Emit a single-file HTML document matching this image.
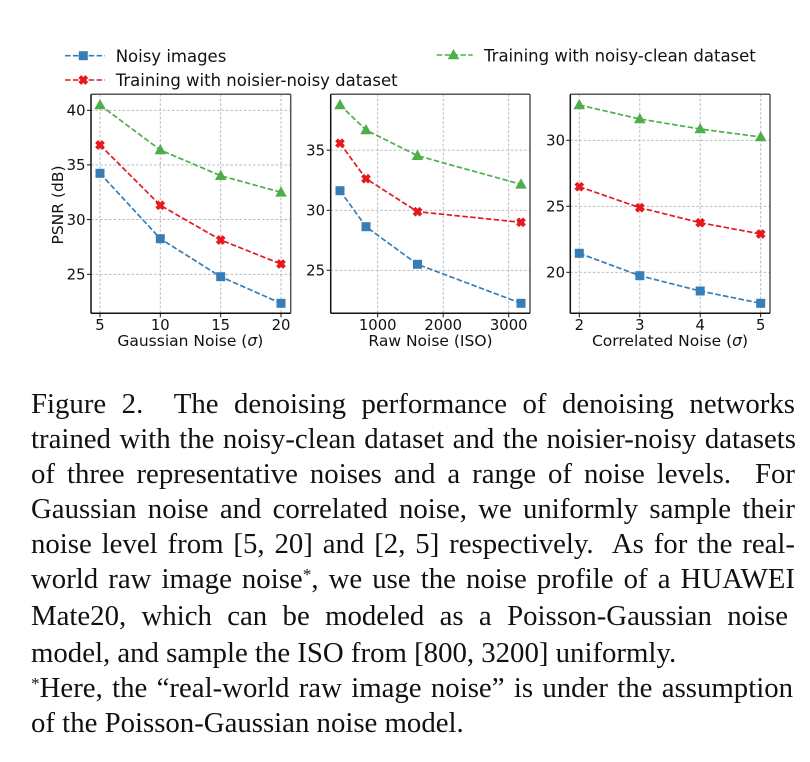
<!DOCTYPE html>
<html><head><meta charset="utf-8">
<style>
html,body{margin:0;padding:0;background:#fff;}
body{width:810px;height:762px;position:relative;overflow:hidden;}
.l{position:absolute;left:31px;font-family:"Liberation Serif","DejaVu Serif",serif;font-size:28.8px;line-height:28.8px;color:#111;white-space:nowrap;}
.j{text-align:justify;text-align-last:justify;white-space:normal;}
.sup{position:relative;top:-0.45em;font-size:0.6em;}
svg text{font-family:"DejaVu Sans","Liberation Sans",sans-serif;fill:#111;}
</style></head>
<body>
<svg width="810" height="370" viewBox="0 0 810 370" style="position:absolute;left:0;top:0">
<defs>
<polygon id="xm" points="2,4.9 2,2 4.9,2 4.9,-2 2,-2 2,-4.9 -2,-4.9 -2,-2 -4.9,-2 -4.9,2 -2,2 -2,4.9" transform="rotate(45)"/>
</defs>
<!-- Legend -->
<g stroke-width="1.6" stroke-dasharray="5.5 2.4" fill="none">
<line x1="65" y1="55.7" x2="105" y2="55.7" stroke="#377eb8"/>
<line x1="65" y1="80" x2="105" y2="80" stroke="#e41a1c"/>
<line x1="436.7" y1="55" x2="472.7" y2="55" stroke="#4daf4a"/>
</g>
<rect x="78.8" y="51.2" width="9" height="9" fill="#377eb8"/>
<use href="#xm" x="83.3" y="80" fill="#e41a1c"/>
<polygon fill="#4daf4a" points="453.5,49 447.7,59.3 459.3,59.3"/>
<text x="115.7" y="62" font-size="16.5">Noisy images</text>
<text x="115.7" y="86" font-size="16.5">Training with noisier-noisy dataset</text>
<text x="484" y="61.7" font-size="16.5">Training with noisy-clean dataset</text>

<!-- ===== Plot 1 ===== -->
<g stroke="#b0b0b0" stroke-width="0.9" stroke-dasharray="2.5 2" fill="none">
<line x1="100" y1="94.3" x2="100" y2="313.3"/>
<line x1="160.3" y1="94.3" x2="160.3" y2="313.3"/>
<line x1="220.7" y1="94.3" x2="220.7" y2="313.3"/>
<line x1="281" y1="94.3" x2="281" y2="313.3"/>
<line x1="91" y1="110.3" x2="290.7" y2="110.3"/>
<line x1="91" y1="164.9" x2="290.7" y2="164.9"/>
<line x1="91" y1="219.6" x2="290.7" y2="219.6"/>
<line x1="91" y1="274.3" x2="290.7" y2="274.3"/>
</g>
<g stroke-width="1.7" stroke-dasharray="5.5 2.4" fill="none">
<polyline stroke="#377eb8" points="100,173.3 160.3,238.7 220.7,276.7 281,303.3"/>
<polyline stroke="#e41a1c" points="100,145 160.3,205.3 220.7,240 281,264"/>
<polyline stroke="#4daf4a" points="100,105 160.3,150 220.7,175.7 281,192.3"/>
</g>
<g fill="#377eb8">
<rect x="95.5" y="168.8" width="9" height="9"/>
<rect x="155.8" y="234.2" width="9" height="9"/>
<rect x="216.2" y="272.2" width="9" height="9"/>
<rect x="276.5" y="298.8" width="9" height="9"/>
</g>
<g fill="#e41a1c">
<use href="#xm" x="100" y="145"/>
<use href="#xm" x="160.3" y="205.3"/>
<use href="#xm" x="220.7" y="240"/>
<use href="#xm" x="281" y="264"/>
</g>
<g fill="#4daf4a">
<polygon points="100,99 94.2,109.3 105.8,109.3"/>
<polygon points="160.3,144 154.5,154.3 166.1,154.3"/>
<polygon points="220.7,169.7 214.9,180 226.5,180"/>
<polygon points="281,186.3 275.2,196.6 286.8,196.6"/>
</g>
<line x1="91" y1="94.3" x2="290.7" y2="94.3" stroke="#555" stroke-width="1.5"/>
<line x1="290.7" y1="94.3" x2="290.7" y2="313.3" stroke="#555" stroke-width="1.5"/>
<line x1="91" y1="94.3" x2="91" y2="313.3" stroke="#111" stroke-width="1.5"/>
<line x1="91" y1="313.3" x2="290.7" y2="313.3" stroke="#111" stroke-width="1.5"/>
<g stroke="#111" stroke-width="1">
<line x1="87" y1="110.3" x2="91" y2="110.3"/><line x1="87" y1="164.9" x2="91" y2="164.9"/>
<line x1="87" y1="219.6" x2="91" y2="219.6"/><line x1="87" y1="274.3" x2="91" y2="274.3"/>
<line x1="100" y1="313.3" x2="100" y2="317.3"/><line x1="160.3" y1="313.3" x2="160.3" y2="317.3"/>
<line x1="220.7" y1="313.3" x2="220.7" y2="317.3"/><line x1="281" y1="313.3" x2="281" y2="317.3"/>
</g>
<g font-size="14.8" text-anchor="end">
<text x="85.5" y="115.6">40</text><text x="85.5" y="170.2">35</text>
<text x="85.5" y="224.9">30</text><text x="85.5" y="279.6">25</text>
</g>
<g font-size="14.8" text-anchor="middle">
<text x="100" y="330">5</text><text x="160.3" y="330">10</text>
<text x="220.7" y="330">15</text><text x="281" y="330">20</text>
</g>
<text x="190.3" y="346" font-size="15.5" text-anchor="middle">Gaussian Noise (<tspan font-style="italic">σ</tspan>)</text>
<text transform="translate(63,205) rotate(-90)" font-size="15.5" text-anchor="middle">PSNR (dB)</text>

<!-- ===== Plot 2 ===== -->
<g stroke="#b0b0b0" stroke-width="0.9" stroke-dasharray="2.5 2" fill="none">
<line x1="377.7" y1="94.3" x2="377.7" y2="313.3"/>
<line x1="443.2" y1="94.3" x2="443.2" y2="313.3"/>
<line x1="508.7" y1="94.3" x2="508.7" y2="313.3"/>
<line x1="330.7" y1="150.2" x2="530" y2="150.2"/>
<line x1="330.7" y1="210.3" x2="530" y2="210.3"/>
<line x1="330.7" y1="270.3" x2="530" y2="270.3"/>
</g>
<g stroke-width="1.7" stroke-dasharray="5.5 2.4" fill="none">
<polyline stroke="#377eb8" points="340,190.7 366,226.7 417.5,264.3 521,303.3"/>
<polyline stroke="#e41a1c" points="340,143.3 366,178.7 417.5,211.7 521,222.3"/>
<polyline stroke="#4daf4a" points="340,105 366,130 417.5,155.7 521,184.3"/>
</g>
<g fill="#377eb8">
<rect x="335.5" y="186.2" width="9" height="9"/>
<rect x="361.5" y="222.2" width="9" height="9"/>
<rect x="413" y="259.8" width="9" height="9"/>
<rect x="516.5" y="298.8" width="9" height="9"/>
</g>
<g fill="#e41a1c">
<use href="#xm" x="340" y="143.3"/>
<use href="#xm" x="366" y="178.7"/>
<use href="#xm" x="417.5" y="211.7"/>
<use href="#xm" x="521" y="222.3"/>
</g>
<g fill="#4daf4a">
<polygon points="340,99 334.2,109.3 345.8,109.3"/>
<polygon points="366,124 360.2,134.3 371.8,134.3"/>
<polygon points="417.5,149.7 411.7,160 423.3,160"/>
<polygon points="521,178.3 515.2,188.6 526.8,188.6"/>
</g>
<line x1="330.7" y1="94.3" x2="530" y2="94.3" stroke="#555" stroke-width="1.5"/>
<line x1="530" y1="94.3" x2="530" y2="313.3" stroke="#555" stroke-width="1.5"/>
<line x1="330.7" y1="94.3" x2="330.7" y2="313.3" stroke="#111" stroke-width="1.5"/>
<line x1="330.7" y1="313.3" x2="530" y2="313.3" stroke="#111" stroke-width="1.5"/>
<g stroke="#111" stroke-width="1">
<line x1="326.7" y1="150.2" x2="330.7" y2="150.2"/><line x1="326.7" y1="210.3" x2="330.7" y2="210.3"/>
<line x1="326.7" y1="270.3" x2="330.7" y2="270.3"/>
<line x1="377.7" y1="313.3" x2="377.7" y2="317.3"/><line x1="443.2" y1="313.3" x2="443.2" y2="317.3"/>
<line x1="508.7" y1="313.3" x2="508.7" y2="317.3"/>
</g>
<g font-size="14.8" text-anchor="end">
<text x="325" y="155.5">35</text><text x="325" y="215.6">30</text><text x="325" y="275.6">25</text>
</g>
<g font-size="14.8" text-anchor="middle">
<text x="377.7" y="330">1000</text><text x="443.2" y="330">2000</text><text x="508.7" y="330">3000</text>
</g>
<text x="430.5" y="346" font-size="15.5" text-anchor="middle">Raw Noise (ISO)</text>

<!-- ===== Plot 3 ===== -->
<g stroke="#b0b0b0" stroke-width="0.9" stroke-dasharray="2.5 2" fill="none">
<line x1="579.3" y1="94.3" x2="579.3" y2="313.3"/>
<line x1="639.8" y1="94.3" x2="639.8" y2="313.3"/>
<line x1="700.2" y1="94.3" x2="700.2" y2="313.3"/>
<line x1="760.7" y1="94.3" x2="760.7" y2="313.3"/>
<line x1="570.3" y1="140.3" x2="770" y2="140.3"/>
<line x1="570.3" y1="206.3" x2="770" y2="206.3"/>
<line x1="570.3" y1="272.3" x2="770" y2="272.3"/>
</g>
<g stroke-width="1.7" stroke-dasharray="5.5 2.4" fill="none">
<polyline stroke="#377eb8" points="579.3,253.3 639.8,275.7 700.2,291 760.7,303.3"/>
<polyline stroke="#e41a1c" points="579.3,186.7 639.8,207.7 700.2,222.7 760.7,234"/>
<polyline stroke="#4daf4a" points="579.3,105 639.8,119 700.2,129 760.7,137"/>
</g>
<g fill="#377eb8">
<rect x="574.8" y="248.8" width="9" height="9"/>
<rect x="635.3" y="271.2" width="9" height="9"/>
<rect x="695.7" y="286.5" width="9" height="9"/>
<rect x="756.2" y="298.8" width="9" height="9"/>
</g>
<g fill="#e41a1c">
<use href="#xm" x="579.3" y="186.7"/>
<use href="#xm" x="639.8" y="207.7"/>
<use href="#xm" x="700.2" y="222.7"/>
<use href="#xm" x="760.7" y="234"/>
</g>
<g fill="#4daf4a">
<polygon points="579.3,99 573.5,109.3 585.1,109.3"/>
<polygon points="639.8,113 634,123.3 645.6,123.3"/>
<polygon points="700.2,123 694.4,133.3 706,133.3"/>
<polygon points="760.7,131 754.9,141.3 766.5,141.3"/>
</g>
<line x1="570.3" y1="94.3" x2="770" y2="94.3" stroke="#555" stroke-width="1.5"/>
<line x1="770" y1="94.3" x2="770" y2="313.3" stroke="#555" stroke-width="1.5"/>
<line x1="570.3" y1="94.3" x2="570.3" y2="313.3" stroke="#111" stroke-width="1.5"/>
<line x1="570.3" y1="313.3" x2="770" y2="313.3" stroke="#111" stroke-width="1.5"/>
<g stroke="#111" stroke-width="1">
<line x1="566.3" y1="140.3" x2="570.3" y2="140.3"/><line x1="566.3" y1="206.3" x2="570.3" y2="206.3"/>
<line x1="566.3" y1="272.3" x2="570.3" y2="272.3"/>
<line x1="579.3" y1="313.3" x2="579.3" y2="317.3"/><line x1="639.8" y1="313.3" x2="639.8" y2="317.3"/>
<line x1="700.2" y1="313.3" x2="700.2" y2="317.3"/><line x1="760.7" y1="313.3" x2="760.7" y2="317.3"/>
</g>
<g font-size="14.8" text-anchor="end">
<text x="565" y="145.6">30</text><text x="565" y="211.6">25</text><text x="565" y="277.6">20</text>
</g>
<g font-size="14.8" text-anchor="middle">
<text x="579.3" y="330">2</text><text x="639.8" y="330">3</text>
<text x="700.2" y="330">4</text><text x="760.7" y="330">5</text>
</g>
<text x="670" y="346" font-size="15.5" text-anchor="middle">Correlated Noise (<tspan font-style="italic">σ</tspan>)</text>
</svg>

<div class="l j" style="top:390.2px;width:764px;">Figure 2.&nbsp; The denoising performance of denoising networks</div>
<div class="l j" style="top:425.2px;width:765px;">trained with the noisy-clean dataset and the noisier-noisy datasets</div>
<div class="l j" style="top:459.7px;width:764px;">of three representative noises and a range of noise levels.&nbsp; For</div>
<div class="l j" style="top:494.9px;width:764px;">Gaussian noise and correlated noise, we uniformly sample their</div>
<div class="l j" style="top:530.2px;width:764px;">noise level from [5, 20] and [2, 5] respectively.&nbsp; As for the real-</div>
<div class="l j" style="top:565.2px;width:764px;">world raw image noise<span class="sup">*</span>, we use the noise profile of a HUAWEI</div>
<div class="l j" style="top:601.9px;width:757px;">Mate20, which can be modeled as a Poisson-Gaussian noise</div>
<div class="l" style="top:638.6px;">model, and sample the ISO from [800, 3200] uniformly.</div>
<div class="l j" style="top:674.2px;width:762px;"><span class="sup">*</span>Here, the “real-world raw image noise” is under the assumption</div>
<div class="l" style="top:709.2px;">of the Poisson-Gaussian noise model.</div>
</body></html>
